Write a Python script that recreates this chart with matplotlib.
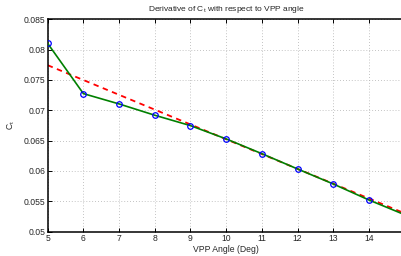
import matplotlib
matplotlib.use("Agg")
import matplotlib.pyplot as plt

angles = [5, 6, 7, 8, 9, 10, 11, 12, 13, 14]
ct_deriv = [0.0810, 0.07274, 0.07104, 0.06918, 0.06747, 0.06528, 0.06285, 0.06033, 0.05786, 0.05522]
curve_x = [5, 6, 7, 8, 9, 10, 11, 12, 13, 14, 15]
curve_y = [0.0810, 0.07274, 0.07104, 0.06918, 0.06747, 0.06528, 0.06285, 0.06033, 0.05786, 0.05522, 0.05280]
fit_x = [5, 15]
fit_y = [0.07742, 0.05303]
xticks = [5, 6, 7, 8, 9, 10, 11, 12, 13, 14]
yticks = [0.05, 0.055, 0.06, 0.065, 0.07, 0.075, 0.08, 0.085]

plt.rcParams['font.family'] = ['Liberation Sans', 'DejaVu Sans']
txt = '#262626'
fig = plt.figure(figsize=(4.01, 2.56), dpi=100)
ax = fig.add_axes([0.119, 0.095, 0.890, 0.830])

ax.plot(fit_x, fit_y, color='red', linestyle=(0, (3, 2.5)), linewidth=1.3, zorder=2)
ax.plot(curve_x, curve_y, color='#008000', linewidth=1.2, zorder=3)
ax.plot(angles, ct_deriv, linestyle='none', marker='o', markersize=4,
        markerfacecolor='none', markeredgecolor='blue', markeredgewidth=0.9, zorder=4)

ax.set_xlim(5, 15)
ax.set_ylim(0.05, 0.085)
ax.set_xticks(xticks)
ax.set_yticks(yticks)
ax.set_yticklabels([f"{v:g}" for v in yticks])
ax.tick_params(direction='in', labelsize=6.2, length=3, width=0.7, top=True, right=True,
               pad=1.5, labelcolor=txt)
ax.grid(True, color='#b0b0b0', linestyle=(0, (1, 2.5)), linewidth=0.6)
for s in ax.spines.values():
    s.set_linewidth(1.1)

ax.set_title(r'Derivative of C$_\mathregular{t}$ with respect to VPP angle', fontsize=6, pad=6, color=txt)
ax.set_xlabel('VPP Angle (Deg)', fontsize=6.2, labelpad=1.5, color=txt)
ax.set_ylabel(r'C$_\mathregular{t}$', fontsize=6.2, labelpad=5, color=txt)

fig.savefig('out.png', dpi=100)
